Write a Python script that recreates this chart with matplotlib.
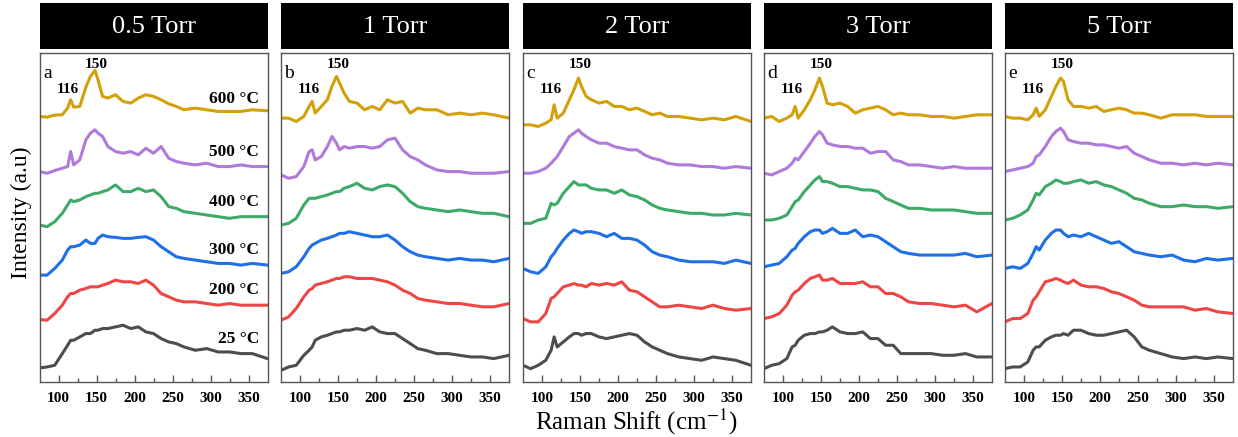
import numpy as np
import matplotlib
matplotlib.use('Agg')
import matplotlib.pyplot as plt

plt.rcParams['font.family'] = ['Liberation Serif', 'DejaVu Serif']
plt.rcParams['mathtext.fontset'] = 'stix'

# Raman shift grid (cm-1) where the curves were read
shift = [75, 85, 95, 105, 112, 116, 120, 128, 136, 142, 148, 152, 158, 165, 175, 185,
         195, 205, 215, 225, 235, 245, 255, 265, 280, 295, 310, 325, 340, 355, 375]

pressures = ['0.5 Torr', '1 Torr', '2 Torr', '3 Torr', '5 Torr']
panel_letters = ['a', 'b', 'c', 'd', 'e']
temps = ['25 °C', '200 °C', '300 °C', '400 °C', '500 °C', '600 °C']
colors = ['#4d4d4d', '#f04545', '#1f6fe8', '#3daa68', '#b07adc', '#d4a00a']
offsets = [45, 185, 320, 470, 630, 795]   # vertical stacking of the spectra

# intensities (a.u.), order: 25, 200, 300, 400, 500, 600 C
torr05 = [
    [-3, 0, 5, 40, 65, 80, 80, 90, 100, 100, 110, 110, 115, 115, 120, 125, 115, 120, 105, 100, 85, 75, 70, 60, 50, 55, 45, 45, 40, 40, 25],
    [2, 0, 20, 45, 70, 80, 80, 90, 95, 100, 100, 100, 105, 110, 120, 115, 115, 110, 120, 105, 80, 70, 60, 55, 55, 50, 45, 50, 45, 45, 45],
    [0, 0, 20, 45, 75, 85, 85, 90, 105, 95, 95, 110, 120, 115, 113, 110, 110, 113, 115, 105, 85, 70, 55, 50, 45, 40, 35, 35, 30, 35, 30],
    [0, -5, 10, 35, 60, 75, 70, 75, 85, 90, 95, 95, 100, 105, 120, 100, 100, 110, 100, 105, 85, 55, 50, 40, 35, 30, 25, 20, 25, 25, 25],
    [0, -5, 3, 10, 15, 60, 20, 35, 95, 115, 125, 115, 105, 75, 60, 55, 60, 50, 70, 55, 75, 40, 30, 25, 20, 25, 15, 15, 20, 15, 15],
    [0, -2, 4, 5, 25, 50, 28, 30, 88, 120, 138, 110, 60, 55, 65, 45, 40, 55, 65, 60, 50, 38, 30, 20, 25, 20, 15, 15, 15, 20, 17],
]
torr1 = [
    [-10, 0, 5, 35, 50, 60, 80, 90, 95, 100, 105, 105, 110, 110, 115, 110, 120, 105, 100, 100, 85, 70, 55, 50, 40, 40, 35, 30, 30, 25, 35],
    [0, 10, 35, 70, 90, 95, 105, 110, 115, 120, 125, 125, 130, 130, 125, 125, 125, 120, 115, 105, 90, 80, 65, 60, 55, 50, 50, 45, 40, 40, 50],
    [5, 10, 25, 55, 80, 90, 95, 105, 110, 115, 120, 125, 125, 130, 125, 120, 115, 115, 120, 105, 85, 70, 60, 55, 50, 45, 50, 45, 45, 40, 50],
    [0, 5, 20, 60, 80, 80, 80, 85, 90, 95, 100, 100, 110, 115, 125, 110, 105, 115, 120, 115, 95, 70, 55, 50, 45, 40, 45, 40, 35, 35, 25],
    [-10, -20, -15, 15, 60, 65, 35, 45, 75, 105, 85, 65, 75, 70, 75, 75, 70, 75, 95, 100, 65, 45, 35, 20, 5, 0, 0, -5, -5, -5, 0],
    [-5, -5, -15, 0, 30, 45, 10, 30, 50, 90, 120, 100, 70, 45, 40, 20, 30, 20, 50, 40, 45, 10, 25, 20, 20, 5, 10, 5, 10, 5, -5],
]
torr2 = [
    [5, -5, 5, 20, 50, 90, 60, 75, 90, 100, 100, 95, 100, 100, 90, 85, 90, 95, 100, 95, 75, 60, 50, 40, 30, 25, 20, 30, 25, 20, 5],
    [5, -5, -5, 20, 65, 70, 80, 100, 105, 110, 105, 105, 100, 110, 105, 110, 105, 115, 90, 85, 70, 55, 40, 40, 45, 40, 35, 45, 35, 30, 35],
    [20, 10, 5, 25, 55, 65, 80, 105, 125, 135, 130, 125, 130, 130, 125, 115, 125, 110, 110, 105, 90, 70, 60, 55, 45, 40, 40, 40, 35, 45, 35],
    [5, 5, 15, 20, 65, 60, 65, 95, 115, 130, 120, 120, 120, 110, 105, 105, 95, 105, 90, 85, 75, 60, 50, 45, 40, 35, 35, 30, 30, 35, 30],
    [-5, -5, 0, 10, 25, 35, 45, 75, 105, 115, 125, 115, 105, 95, 85, 85, 75, 70, 65, 65, 50, 40, 35, 25, 20, 20, 15, 15, 10, 15, 10],
    [-25, -25, -30, -20, -10, 35, -5, 10, 50, 80, 115, 90, 60, 50, 40, 45, 30, 30, 20, 25, 15, 5, 10, 0, 0, -5, -10, -5, -10, 0, -15],
]
torr3 = [
    [-5, 5, 10, 25, 60, 65, 80, 95, 100, 100, 105, 105, 110, 120, 105, 100, 100, 105, 85, 85, 65, 65, 40, 40, 40, 40, 35, 35, 40, 30, 30],
    [5, 10, 20, 45, 75, 85, 90, 110, 125, 130, 135, 120, 120, 125, 110, 110, 110, 115, 100, 100, 80, 80, 70, 55, 50, 50, 45, 40, 45, 25, 50],
    [25, 30, 35, 55, 75, 80, 95, 115, 130, 135, 135, 125, 130, 140, 125, 125, 135, 115, 120, 115, 100, 85, 70, 65, 60, 60, 60, 60, 65, 55, 60],
    [15, 15, 20, 30, 55, 70, 75, 100, 120, 135, 145, 130, 130, 125, 115, 115, 110, 105, 105, 100, 80, 70, 60, 50, 50, 45, 45, 45, 40, 35, 35],
    [-5, -10, 0, 10, 25, 40, 35, 60, 85, 105, 120, 110, 85, 80, 75, 75, 70, 70, 55, 60, 60, 35, 30, 20, 20, 15, 10, 15, 10, 10, 10],
    [-5, 0, -15, -5, 5, 30, -5, 20, 50, 80, 115, 90, 40, 35, 40, 30, 10, 20, 25, 30, 20, 5, 10, 5, 5, 0, 0, -5, 0, 5, 5],
]
torr5 = [
    [-5, 0, 0, 15, 50, 60, 60, 80, 90, 95, 95, 100, 95, 110, 110, 100, 95, 95, 100, 105, 110, 90, 60, 50, 40, 30, 25, 30, 25, 30, 25],
    [-5, 5, 5, 20, 60, 70, 85, 115, 120, 125, 120, 115, 110, 120, 105, 100, 100, 95, 85, 80, 70, 60, 45, 40, 40, 40, 40, 30, 35, 25, 20],
    [20, 25, 20, 35, 65, 85, 75, 105, 125, 135, 135, 125, 115, 120, 115, 125, 115, 105, 95, 100, 85, 70, 65, 60, 55, 60, 45, 40, 50, 45, 50],
    [15, 20, 30, 45, 75, 95, 90, 115, 125, 135, 130, 125, 125, 130, 135, 125, 130, 120, 115, 105, 95, 80, 75, 65, 55, 55, 60, 55, 55, 50, 55],
    [0, 5, 10, 15, 25, 45, 50, 75, 105, 120, 130, 120, 95, 90, 85, 85, 80, 80, 75, 70, 75, 55, 45, 35, 25, 25, 20, 25, 20, 25, 20],
    [0, -5, -5, -10, 5, 25, 0, 20, 60, 90, 115, 105, 50, 30, 30, 25, 30, 15, 20, 25, 20, 10, 10, 5, -5, 5, 5, 5, 0, 0, 0],
]
panels = [torr05, torr1, torr2, torr3, torr5]

fig = plt.figure(figsize=(12.38, 4.37), dpi=100)

W, H = 1238.0, 437.0
ax_w = 228 / W
ax_b = 1 - 382 / H
ax_h = (382 - 53) / H
lefts = [39.5, 281, 523, 764, 1005]

for k, (spectra, title, letter) in enumerate(zip(panels, pressures, panel_letters)):
    left = lefts[k] / W
    ax = fig.add_axes([left, ax_b, ax_w, ax_h])
    for i, curve in enumerate(spectra):
        ax.plot(shift, np.array(curve) + offsets[i], color=colors[i], lw=2.2,
                solid_joinstyle='round')
    ax.set_xlim(75, 375)
    ax.set_ylim(0, 985)
    ax.set_yticks([])
    ax.set_xticks([100, 150, 200, 250, 300, 350])
    ax.set_xticks([125, 175, 225, 275, 325], minor=True)
    ax.tick_params(axis='x', which='major', direction='in', length=5, width=1,
                   color='#555555', pad=7, labelsize=11)
    ax.tick_params(axis='x', which='minor', direction='in', length=3, width=1, color='#555555')
    for lab in ax.get_xticklabels():
        lab.set_fontweight('bold')
    for sp in ax.spines.values():
        sp.set_color('#555555')
        sp.set_linewidth(1.0)

    ax.text(0.015, 0.965, letter, transform=ax.transAxes, fontsize=14, va='top', ha='left')
    ax.text(112, 876, '116', fontsize=11, fontweight='bold', ha='center', va='center')
    ax.text(150, 952, '150', fontsize=11, fontweight='bold', ha='center', va='center')

    if k == 0:
        label_y = [130, 275, 395, 540, 690, 847]
        for t, yy in zip(temps, label_y):
            ax.text(364, yy, t, fontsize=12.5, fontweight='bold', ha='right', va='center')

    # black title bar above each panel
    hax = fig.add_axes([left, 1 - 49 / H, ax_w, 46 / H])
    hax.set_facecolor('black')
    hax.set_xticks([])
    hax.set_yticks([])
    for sp in hax.spines.values():
        sp.set_visible(False)
    hax.text(0.5, 0.47, title, color='white', fontsize=19, ha='center', va='center',
             transform=hax.transAxes)

fig.text(21 / W, 1 - 213 / H, 'Intensity (a.u)', rotation=90, fontsize=17,
         ha='center', va='center')
fig.text(636 / W, 1 - 422 / H, 'Raman Shift (cm$^{-1}$)', fontsize=18,
         ha='center', va='center')

fig.savefig('out.png', dpi=100)
